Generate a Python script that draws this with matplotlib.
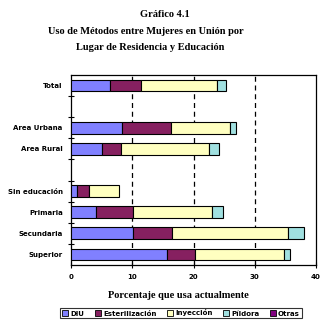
import numpy as np
import matplotlib
matplotlib.use('Agg')
import matplotlib.pyplot as plt

# Uso de métodos por lugar de residencia y educación (porcentaje)
categories = ['Total', '', 'Area Urbana', 'Area Rural', '',
              'Sin educación', 'Primaria', 'Secundaria', 'Superior']
diu = [6.4, 0, 8.4, 5.1, 0, 1.0, 4.0, 10.2, 15.7]
esterilizacion = [5.1, 0, 8.0, 3.1, 0, 2.0, 6.2, 6.3, 4.6]
inyeccion = [12.3, 0, 9.5, 14.3, 0, 4.9, 12.8, 19.0, 14.4]
pildora = [1.5, 0, 1.1, 1.7, 0, 0.0, 1.8, 2.6, 1.1]
otras = [0, 0, 0, 0, 0, 0, 0, 0, 0]

series = [('DIU', diu, '#8080ff'),
          ('Esterilización', esterilizacion, '#862060'),
          ('Inyección', inyeccion, '#ffffc0'),
          ('Píldora', pildora, '#a0e0e0'),
          ('Otras', otras, '#800080')]

fig = plt.figure(figsize=(3.29, 3.23), dpi=100)
ax = fig.add_axes([71/329, 1-265/323, 245/329, 190/323])

y = np.arange(len(categories))
left = np.zeros(len(categories))
handles = []
for name, vals, col in series:
    vals = np.array(vals, dtype=float)
    mask = vals > 0
    ax.barh(y[mask], vals[mask], left=left[mask], height=0.56, color=col,
            edgecolor='black', linewidth=0.8, zorder=3)
    handles.append(plt.Rectangle((0, 0), 1, 1, facecolor=col, edgecolor='black', linewidth=0.6))
    left += vals

ax.set_xlim(0, 40)
ax.set_ylim(len(categories) - 0.5, -0.5)
ax.set_xticks([0, 10, 20, 30, 40])
ax.set_xticklabels(['0', '10', '20', '30', '40'], fontsize=5, fontweight='bold')
ax.set_yticks(y)
ax.set_yticklabels(categories, fontsize=5, fontweight='bold')
ax.set_yticks(np.arange(0.5, len(categories) - 0.5, 1), minor=True)
ax.tick_params(axis='y', which='major', length=0, pad=6)
ax.tick_params(axis='y', which='minor', direction='inout', length=5, width=0.8)
ax.tick_params(axis='x', direction='inout', length=5, width=0.8, pad=4)

for xv in [10, 20, 30]:
    ax.axvline(xv, color='black', linestyle=(0, (4, 3)), linewidth=0.9, zorder=1)

for sp in ax.spines.values():
    sp.set_linewidth(0.9)

title_kw = dict(family='Liberation Serif', fontweight='bold', fontsize=7.5, ha='center')
fig.text(165/329, 1-17/323, 'Gráfico 4.1', **title_kw)
fig.text(146/329, 1-34/323, 'Uso de Métodos entre Mujeres en Unión por', **title_kw)
fig.text(150/329, 1-50/323, 'Lugar de Residencia y Educación', **title_kw)
fig.text(178/329, 1-298/323, 'Porcentaje que usa actualmente',
         family='Liberation Serif', fontweight='bold', fontsize=7.5, ha='center')

leg = fig.legend(handles, [s[0] for s in series], loc='center',
                 bbox_to_anchor=(181/329, 1-313/323), ncol=5,
                 prop={'size': 5, 'weight': 'bold'}, frameon=True, fancybox=False,
                 handlelength=0.9, handleheight=0.9, handletextpad=0.3,
                 columnspacing=1.5, borderpad=0.25, borderaxespad=0)
leg.get_frame().set_edgecolor('black')
leg.get_frame().set_linewidth(0.8)

fig.savefig('out.png', dpi=100)
